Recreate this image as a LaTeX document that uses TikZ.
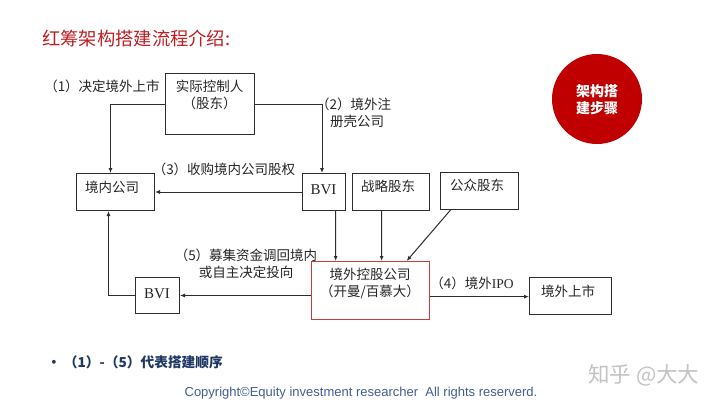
\documentclass[tikz,border=0pt]{standalone}
\usepackage{fontspec}
\setmainfont{Noto Sans CJK SC}
\newfontfamily\cjk{Noto Sans CJK SC}
\newfontfamily\tnr{Liberation Serif}
\newfontfamily\arial{Liberation Sans}
\usetikzlibrary{arrows.meta}
\definecolor{ttlred}{RGB}{192,30,35}
\definecolor{boxred}{RGB}{205,60,60}
\definecolor{circred}{RGB}{192,0,0}
\definecolor{linegray}{RGB}{45,45,45}
\definecolor{bulblue}{RGB}{31,56,100}
\definecolor{copyblue}{RGB}{65,95,145}
\definecolor{wmgray}{RGB}{195,195,195}
\begin{document}
\begin{tikzpicture}[x=1pt,y=-1pt,
  box/.style={draw=linegray, line width=1pt, anchor=north west, inner sep=0pt},
  txt/.style={font=\cjk\fontsize{13.5}{17}\selectfont, text=black!85, inner sep=0pt, align=center},
  arr/.style={draw=linegray, line width=1pt, -{Latex[length=5pt,width=4pt]}},
  ln/.style={draw=linegray, line width=1pt}]
\useasboundingbox (0,0) rectangle (720,405);
\fill[white] (0,0) rectangle (720,405);

% title
\node[anchor=west, inner sep=0pt, text=ttlred, font=\cjk\fontsize{18.3}{21}\selectfont] (title) at (42,38) {红筹架构搭建流程介绍:};

% boxes
\node[box, minimum width=89pt, minimum height=61pt] (ctrl) at (165,73) {};
\node[txt] (ctrlT) at (209.5,95) {实际控制人\\（股东）};
\node[box, minimum width=78pt, minimum height=37pt] (dom) at (76,173) {};
\node[txt] (domT) at (112,187) {境内公司};
\node[box, minimum width=43pt, minimum height=37pt] (bviT) at (302,173) {};
\node[txt, font=\tnr\fontsize{15}{17}\selectfont] (bviTT) at (323.5,190) {BVI};
\node[box, minimum width=77pt, minimum height=37pt] (strat) at (352,173) {};
\node[txt] (stratT) at (388,186) {战略股东};
\node[box, minimum width=78pt, minimum height=37pt] (pub) at (440,172) {};
\node[txt] (pubT) at (477,185) {公众股东};
\node[box, draw=boxred, line width=1.3pt, minimum width=118pt, minimum height=58pt] (hold) at (311,261) {};
\node[txt] (holdT) at (370,283) {境外控股公司\\（开曼/百慕大）};
\node[box, minimum width=82pt, minimum height=37pt] (list) at (529,277) {};
\node[txt] (listT) at (568,291) {境外上市};
\node[box, minimum width=44pt, minimum height=36pt] (bviB) at (135,277) {};
\node[txt, font=\tnr\fontsize{15}{17}\selectfont] (bviBT) at (157,294) {BVI};

% labels
\node[txt] (l1) at (102,86) {（1）决定境外上市};
\node[txt, align=left, anchor=north west] (l2) at (316,98) {（2）境外注\\\hspace{14pt}册壳公司};
\node[txt] (l3) at (224,169) {（3）收购境内公司股权};
\node[txt] (l5) at (246,264) {（5）募集资金调回境内\\或自主决定投向};
\node[txt] (l4) at (472,283) {（4）境外{\tnr IPO}};

% connectors
\draw[arr] (ctrl.west) -| ([xshift=-5pt]dom.north);
\draw[arr] (ctrl.east) -| ([xshift=-2pt]bviT.north);
\draw[arr] (bviT.west) -- (dom.east);
\draw[arr] ([xshift=11.5pt]bviT.south) -- ([xshift=-35pt]hold.north);
\draw[arr] ([xshift=-9.5pt]strat.south) -- ([xshift=11pt]hold.north);
\draw[arr] ([xshift=-29pt]pub.south) -- ([xshift=36pt]hold.north);
\draw[arr] ([yshift=-6pt]hold.east) -- ([yshift=-6pt]hold.east -| list.west);
\draw[arr] (hold.west |- bviB.east) -- (bviB.east);
\draw[arr] (bviB.west) -| ([xshift=-7pt]dom.south);

% circle
\node[circle, fill=circred, minimum size=90pt, inner sep=0pt] (circ) at (597,99) {};
\node[txt, text=white, font=\cjk\bfseries\fontsize{14}{17}\selectfont] (circT) at (597,100) {架构搭\\建步骤};

% bullet
\node[anchor=west, inner sep=0pt, text=bulblue, font=\cjk\bfseries\fontsize{13.7}{16}\selectfont] (bul) at (47,362) {•\hspace{3pt}（1）-（5）代表搭建顺序};

% watermark
\node[anchor=west, inner sep=0pt, text=wmgray, font=\cjk\fontsize{21.5}{24}\selectfont] (wm) at (588,375) {知乎 @大大};

% copyright
\node[inner sep=0pt, text=copyblue, font=\arial\fontsize{13}{15}\selectfont] (copy) at (361,393) {Copyright©Equity investment researcher\ \ All rights reserverd.};
\end{tikzpicture}
\end{document}
